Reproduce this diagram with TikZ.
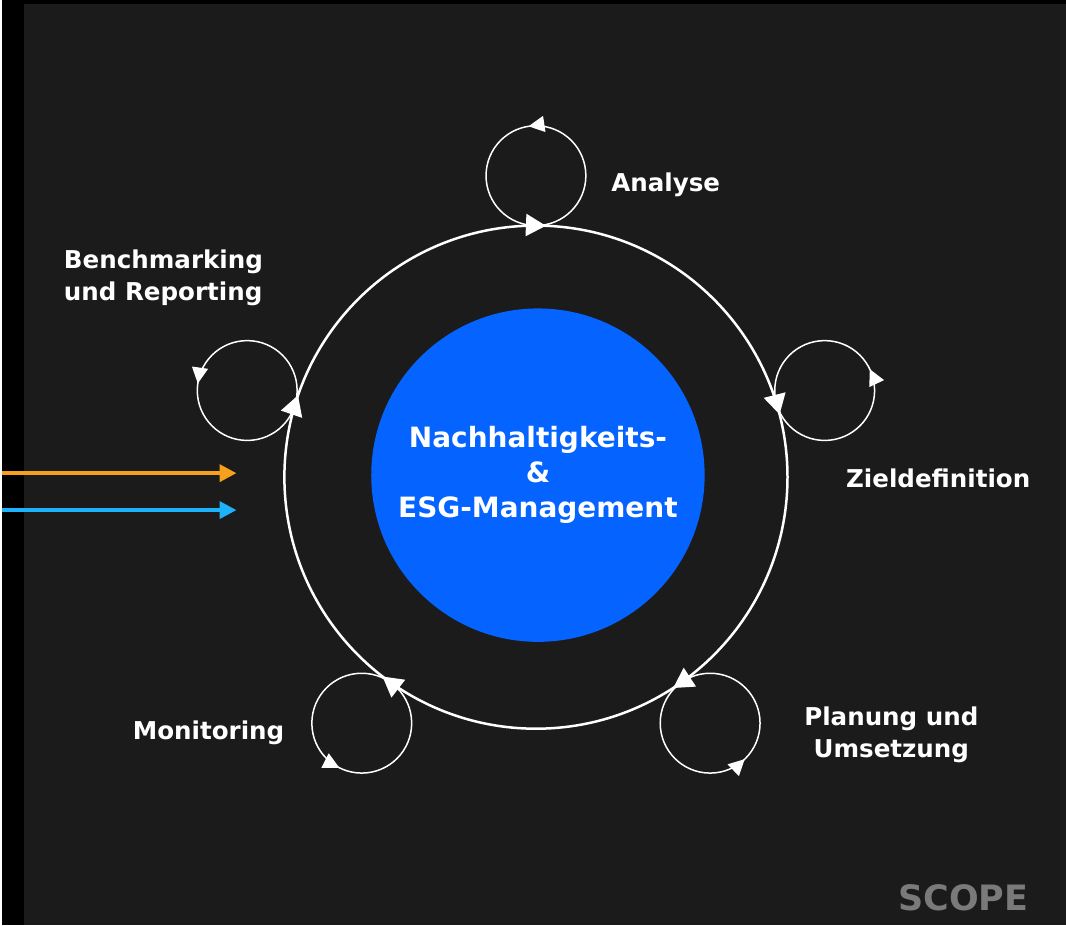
\documentclass[tikz,border=0pt]{standalone}
\usepackage{fontspec}
\setmainfont{DejaVu Sans}
\usetikzlibrary{arrows.meta,decorations.markings}
\definecolor{bgdark}{RGB}{27,27,27}
\definecolor{esgblue}{RGB}{5,100,255}
\definecolor{feedorange}{RGB}{247,160,28}
\definecolor{feedblue}{RGB}{30,178,250}
\definecolor{scopegray}{RGB}{122,122,122}

\begin{document}
\begin{tikzpicture}[x=1pt,y=1pt,ring/.style={draw=white,color=white,line width=2.5pt,postaction={decorate},decoration={markings,mark=at position .0401 with {\arrowreversed{Triangle[length=20pt,width=22pt]}},mark=at position .2437 with {\arrowreversed{Triangle[length=20pt,width=22pt]}},mark=at position .4473 with {\arrowreversed{Triangle[length=20pt,width=22pt]}},mark=at position .6456 with {\arrowreversed{Triangle[length=20pt,width=22pt]}},mark=at position .8418 with {\arrowreversed{Triangle[length=20pt,width=22pt]}}}},subloop/.style={draw=white,color=white,line width=1.5pt,postaction={decorate},decoration={markings,mark=at position #1 with {\arrow{Triangle[length=16pt,width=16pt]}}}},lbl/.style={text=white,inner sep=0pt,font=\bfseries\fontsize{24.6}{32}\selectfont},core/.style={circle,fill=esgblue,minimum size=334pt,inner sep=0pt,align=center,text=white,font=\bfseries\fontsize{28}{35}\selectfont},feed/.style={-{Triangle[length=17pt,width=17pt]},line width=3.8pt,draw=#1}]

\fill[black] (0,0) rectangle (1066,927);
\fill[bgdark] (22,0) rectangle (1066,923);

\coordinate (c) at (535,449);
\path (c) ++(90:302) coordinate (la);
\path (c) ++(16.7:302) coordinate (lz);
\path (c) ++(-54.7:302) coordinate (lp);
\path (c) ++(-125.3:302) coordinate (lm);
\path (c) ++(163.3:302) coordinate (lb);

\node[core] (core) at (537,451) {Nachhaltigkeits-\\\&\\ESG-Management};
\draw[ring] (c) circle[radius=252];

\draw[subloop=.2739] (la) circle[radius=50];
\draw[subloop=.0703] (lz) circle[radius=50];
\draw[subloop=.8719] (lp) circle[radius=50];
\draw[subloop=.6758] (lm) circle[radius=50];
\draw[subloop=.4775] (lb) circle[radius=50];

\node[lbl,anchor=base] (analyse) at (665,735) {Analyse};
\node[lbl,anchor=base] (ziel) at (938,439) {Zieldefinition};
\node[lbl,align=center] (plan) at (891,191) {Planung und\\Umsetzung};
\node[lbl,anchor=base] (monitor) at (207,186) {Monitoring};
\node[lbl,align=left,anchor=west] (bench) at (62,649) {Benchmarking\\und Reporting};

\coordinate (oin) at (0,453);
\coordinate (oout) at (235,453);
\coordinate (bin) at (0,416);
\coordinate (bout) at (235,416);
\draw[feed=feedorange] (oin) -- (oout);
\draw[feed=feedblue] (bin) -- (bout);

\node[anchor=base,text=scopegray,inner sep=0pt,font=\bfseries\fontsize{35}{40}\selectfont] (scope) at (963,15) {SCOPE};
\end{tikzpicture}
\end{document}
